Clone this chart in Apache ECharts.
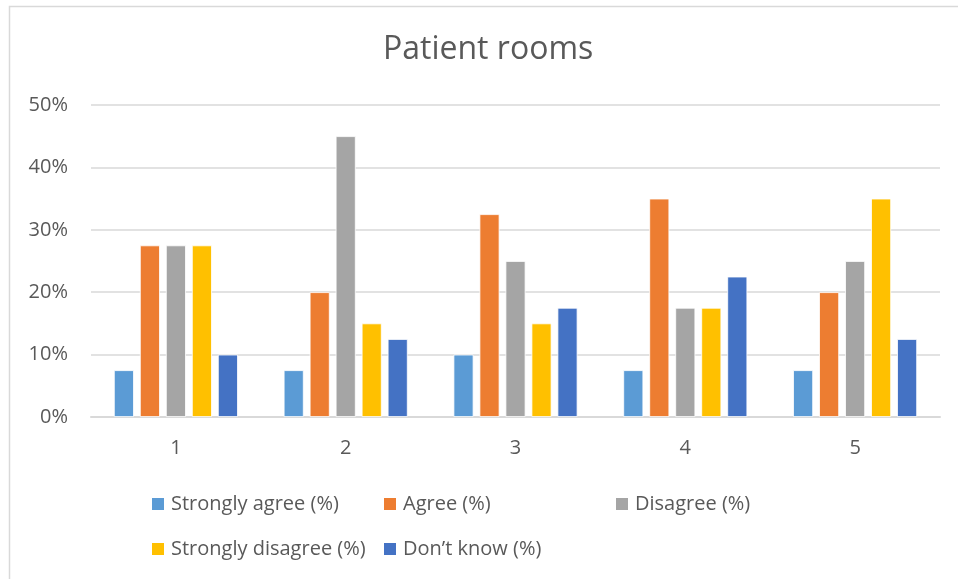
<!DOCTYPE html>
<html><head><meta charset="utf-8">
<script src="https://cdn.jsdelivr.net/npm/echarts@6/dist/echarts.min.js"></script>
<style>html,body{margin:0;padding:0;background:#fff}#c{width:958px;height:579px}</style>
</head><body><div id="c"></div>
<script>
const categories = ['1','2','3','4','5'];
const seriesNames = ['Strongly agree (%)','Agree (%)','Disagree (%)','Strongly disagree (%)','Don\u2019t know (%)'];
const stronglyAgree = [7.5, 7.5, 10, 7.5, 7.5];
const agree = [27.5, 20, 32.5, 35, 20];
const disagree = [27.5, 45, 25, 17.5, 25];
const stronglyDisagree = [27.5, 15, 15, 17.5, 35];
const dontKnow = [10, 12.5, 17.5, 22.5, 12.5];
const yTicks = [0, 10, 20, 30, 40, 50];

const colors = ['#5B9BD5','#ED7D31','#A5A5A5','#FFC000','#4472C4'];
const values = [stronglyAgree, agree, disagree, stronglyDisagree, dontKnow];
const font = 'Open Sans, Liberation Sans, sans-serif';
const legendPos = [[150,494],[382,494],[614,494],[150,539],[382,539]];

const chart = echarts.init(document.getElementById('c'));
chart.setOption({
  animation: false,
  color: colors,
  graphic: [{type:'rect', shape:{x:9.5,y:6.5,width:960,height:580}, style:{fill:'none', stroke:'#d9d9d9', lineWidth:1.5}, silent:true}],
  title: {text:'Patient rooms', left:383, top:34, padding:0, textStyle:{fontFamily:font, fontSize:32, fontWeight:'normal', color:'#595959'}},
  legend: seriesNames.map((n,i)=>({data:[n], left:legendPos[i][0], top:legendPos[i][1], padding:0, itemWidth:14, itemHeight:14, itemGap:0, icon:'rect', textStyle:{fontFamily:font, fontSize:20, color:'#595959', padding:[0,0,0,1]}})),
  grid: {left:91, right:18, top:105, bottom:162, containLabel:false},
  xAxis: {type:'category', data:categories, axisTick:{show:false}, axisLine:{lineStyle:{color:'#d9d9d9', width:2}}, axisLabel:{fontFamily:font, fontSize:20, color:'#595959', margin:21}},
  yAxis: {type:'value', min:yTicks[0], max:yTicks[yTicks.length-1], interval:10, axisLabel:{formatter:'{value}%', fontFamily:font, fontSize:20, color:'#595959', margin:23}, splitLine:{lineStyle:{color:'#d9d9d9', width:1.5}}, axisLine:{show:false}, axisTick:{show:false}},
  series: seriesNames.map((n,i)=>({name:n, type:'bar', data:values[i], barWidth:20, barGap:'30%', itemStyle:{borderColor:'#fff', borderWidth:0.8}}))
});
</script></body></html>
